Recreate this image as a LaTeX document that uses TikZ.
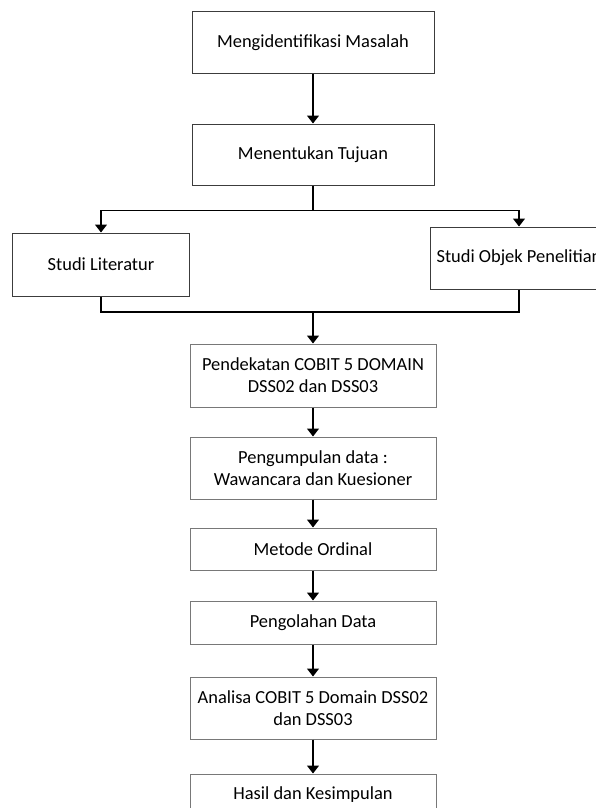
\documentclass[tikz,border=0pt]{standalone}
\usepackage{fontspec}
\setmainfont{Carlito}
\usetikzlibrary{positioning,arrows.meta,calc}
\definecolor{edge}{RGB}{60,60,60}
\definecolor{edgelt}{RGB}{120,120,120}
\tikzset{
  blk/.style={draw=edge,line width=1bp,align=center,font=\fontsize{18.5}{22}\selectfont,inner sep=2bp},
  wide/.style={blk,minimum width=242bp},
  col/.style={blk,draw=edgelt,minimum width=246bp},
  side/.style={blk,minimum width=177bp,minimum height=63bp},
  ar/.style={-{Triangle[width=12bp,length=8bp]},line width=1.3bp},
  ln/.style={line width=1.3bp},
}
\begin{document}
\begin{tikzpicture}[x=1bp,y=-1bp]
  \useasboundingbox (0,0) rectangle (596,808);
  \clip (0,0) rectangle (596,808);
  \node[wide,minimum height=61bp] (ident) at (313,42.5) {Mengidentifikasi Masalah};
  \node[wide,minimum height=61bp,below=50bp of ident] (tujuan) {Menentukan Tujuan};
  \node[side] (lit) at (101,264.5) {Studi Literatur};
  \node[side,minimum width=178bp,minimum height=62bp] (objek) at (519,258) {Studi Objek Penelitian};
  \node[col,minimum height=63bp] (cobit) at (313,375.5) {Pendekatan COBIT 5 DOMAIN\\DSS02 dan DSS03};
  \node[col,minimum height=62bp,below=29bp of cobit] (data) {Pengumpulan data :\\Wawancara dan Kuesioner};
  \node[col,minimum height=42bp,below=28bp of data] (ordinal) {Metode Ordinal};
  \node[col,minimum height=43bp,below=30bp of ordinal] (olah) {Pengolahan Data};
  \node[col,minimum height=62bp,below=32bp of olah] (analisa) {Analisa COBIT 5 Domain DSS02\\dan DSS03};
  \node[col,minimum height=42bp,below=34bp of analisa] (hasil) {Hasil dan Kesimpulan};
  \coordinate[below=25bp of tujuan] (split);
  \coordinate (join) at (313,312);
  \draw[ar] (ident) -- (tujuan);
  \draw[ln] (tujuan) -- (split);
  \draw[ar] (split) -| (lit);
  \draw[ar] (split) -| (objek);
  \draw[ln] (lit) |- (join);
  \draw[ln] (objek) |- (join);
  \draw[ar] (join) -- (cobit);
  \draw[ar] (cobit) -- (data);
  \draw[ar] (data) -- (ordinal);
  \draw[ar] (ordinal) -- (olah);
  \draw[ar] (olah) -- (analisa);
  \draw[ar] (analisa) -- (hasil);
\end{tikzpicture}
\end{document}
